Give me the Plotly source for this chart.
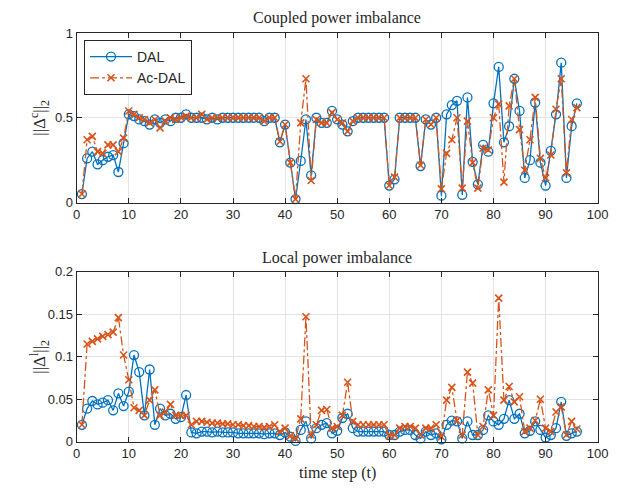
import plotly.graph_objects as go

t = list(range(1, 97))

dal_coupled = [0.05, 0.26, 0.30, 0.225, 0.25, 0.27, 0.28, 0.18, 0.35, 0.52,
               0.51, 0.49, 0.48, 0.46, 0.49, 0.47, 0.49, 0.48, 0.50, 0.50,
               0.52, 0.50, 0.50, 0.50, 0.49, 0.50, 0.49, 0.50, 0.50, 0.50,
               0.50, 0.50, 0.50, 0.50, 0.50, 0.48, 0.50, 0.50, 0.355, 0.46,
               0.235, 0.02, 0.245, 0.49, 0.16, 0.50, 0.47, 0.47, 0.54, 0.49,
               0.46, 0.42, 0.48, 0.50, 0.50, 0.50, 0.50, 0.50, 0.50, 0.10,
               0.137, 0.50, 0.50, 0.50, 0.50, 0.215, 0.49, 0.46, 0.50, 0.04,
               0.52, 0.575, 0.60, 0.045, 0.62, 0.24, 0.107, 0.34, 0.30, 0.585,
               0.80, 0.355, 0.45, 0.73, 0.54, 0.145, 0.25, 0.59, 0.235, 0.10,
               0.305, 0.52, 0.825, 0.145, 0.45, 0.585]

acdal_coupled = [0.05, 0.37, 0.39, 0.30, 0.29, 0.34, 0.34, 0.30, 0.38, 0.54,
                 0.52, 0.50, 0.49, 0.47, 0.49, 0.44, 0.48, 0.50, 0.49, 0.50,
                 0.51, 0.50, 0.50, 0.52, 0.49, 0.50, 0.50, 0.50, 0.50, 0.50,
                 0.50, 0.50, 0.50, 0.50, 0.50, 0.48, 0.50, 0.50, 0.36, 0.46,
                 0.235, 0.02, 0.47, 0.73, 0.13, 0.49, 0.47, 0.47, 0.53, 0.49,
                 0.47, 0.42, 0.48, 0.50, 0.50, 0.50, 0.50, 0.50, 0.50, 0.10,
                 0.15, 0.50, 0.50, 0.50, 0.50, 0.22, 0.49, 0.46, 0.50, 0.08,
                 0.29, 0.37, 0.50, 0.085, 0.48, 0.235, 0.085, 0.32, 0.31, 0.50,
                 0.58, 0.12, 0.57, 0.73, 0.43, 0.19, 0.37, 0.62, 0.26, 0.145,
                 0.28, 0.55, 0.73, 0.175, 0.49, 0.56]

dal_local = [0.020, 0.039, 0.048, 0.044, 0.046, 0.049, 0.037, 0.057, 0.042, 0.059,
             0.102, 0.082, 0.031, 0.085, 0.020, 0.039, 0.031, 0.033, 0.027, 0.029,
             0.055, 0.011, 0.010, 0.012, 0.012, 0.011, 0.012, 0.011, 0.011, 0.011,
             0.010, 0.010, 0.010, 0.010, 0.010, 0.009, 0.010, 0.010, 0.008, 0.011,
             0.006, 0.001, 0.014, 0.024, 0.004, 0.016, 0.020, 0.022, 0.010, 0.013,
             0.028, 0.033, 0.016, 0.012, 0.012, 0.012, 0.012, 0.012, 0.012, 0.008,
             0.008, 0.012, 0.014, 0.014, 0.008, 0.004, 0.012, 0.008, 0.010, 0.003,
             0.020, 0.025, 0.024, 0.004, 0.024, 0.008, 0.008, 0.014, 0.031, 0.024,
             0.020, 0.027, 0.049, 0.027, 0.033, 0.010, 0.013, 0.024, 0.014, 0.005,
             0.008, 0.016, 0.047, 0.007, 0.010, 0.012]

acdal_local = [0.020, 0.115, 0.118, 0.121, 0.124, 0.126, 0.129, 0.146, 0.102, 0.073,
               0.040, 0.037, 0.031, 0.049, 0.061, 0.031, 0.035, 0.044, 0.031, 0.031,
               0.031, 0.020, 0.024, 0.024, 0.023, 0.022, 0.022, 0.021, 0.021, 0.020,
               0.020, 0.019, 0.019, 0.018, 0.018, 0.017, 0.018, 0.020, 0.012, 0.016,
               0.007, 0.004, 0.027, 0.147, 0.008, 0.020, 0.037, 0.038, 0.016, 0.018,
               0.031, 0.070, 0.024, 0.020, 0.020, 0.020, 0.020, 0.020, 0.020, 0.007,
               0.008, 0.016, 0.018, 0.018, 0.016, 0.008, 0.016, 0.016, 0.020, 0.006,
               0.049, 0.064, 0.025, 0.008, 0.082, 0.069, 0.008, 0.018, 0.061, 0.031,
               0.169, 0.049, 0.065, 0.047, 0.053, 0.012, 0.016, 0.025, 0.050, 0.016,
               0.012, 0.035, 0.041, 0.008, 0.024, 0.015]

x_ticks = [0, 10, 20, 30, 40, 50, 60, 70, 80, 90, 100]
y_ticks_top = [0, 0.5, 1]
y_ticks_bottom = [0, 0.05, 0.1, 0.15, 0.2]

BLUE = "#0072BD"
ORANGE = "#D95319"
W, H = 617, 491
OFF = 8  # page body margin

def px(xp):
    return (xp - OFF) / W

def py(yp):
    return 1 - (yp - OFF) / H

fig = go.Figure()

def add_pair(ya, xa, dal, ac, show):
    fig.add_trace(go.Scatter(
        x=t, y=dal, name="DAL", mode="lines+markers", xaxis=xa, yaxis=ya,
        line=dict(color=BLUE, width=1.3),
        marker=dict(symbol="circle-open", size=9, color=BLUE, line=dict(width=1.3, color=BLUE)),
        showlegend=show, cliponaxis=False))
    fig.add_trace(go.Scatter(
        x=t, y=ac, name="Ac-DAL", mode="lines+markers", xaxis=xa, yaxis=ya,
        line=dict(color=ORANGE, width=1.3, dash="dashdot"),
        marker=dict(symbol="x-thin-open", size=7, color=ORANGE, line=dict(width=1.6, color=ORANGE)),
        showlegend=show, cliponaxis=False))

add_pair("y", "x", dal_coupled, acdal_coupled, True)
add_pair("y2", "x2", dal_local, acdal_local, False)

x_dom = [px(76.7), px(597.7)]
top_dom = [py(202.5), py(33)]
bot_dom = [py(441.8), py(271.7)]

axis_common = dict(
    showline=True, linecolor="#262626", linewidth=1, mirror="ticks",
    ticks="inside", ticklen=5, tickcolor="#262626", tickwidth=1,
    showgrid=True, gridcolor="#e3e3e3", gridwidth=1, zeroline=False,
    automargin=False,
    tickfont=dict(family="Liberation Sans, Arial, sans-serif", size=13, color="#262626"),
)

fig.update_layout(
    width=W, height=H, margin=dict(l=0, r=0, t=0, b=0, autoexpand=False),
    paper_bgcolor="white", plot_bgcolor="white",
    xaxis=dict(domain=x_dom, range=[0, 100], tickvals=x_ticks, anchor="y", **axis_common),
    yaxis=dict(domain=top_dom, range=[0, 1], tickvals=y_ticks_top, ticktext=["0", "0.5", "1"], anchor="x", **axis_common),
    xaxis2=dict(domain=x_dom, range=[0, 100], tickvals=x_ticks, anchor="y2", **axis_common),
    yaxis2=dict(domain=bot_dom, range=[0, 0.2], tickvals=y_ticks_bottom, ticktext=["0", "0.05", "0.1", "0.15", "0.2"], anchor="x2", **axis_common),
    legend=dict(x=px(84), y=py(40), xanchor="left", yanchor="top",
                bgcolor="white", bordercolor="#262626", borderwidth=1,
                font=dict(family="Liberation Sans, Arial, sans-serif", size=14, color="#262626"),
                tracegroupgap=0, itemwidth=42),
    showlegend=True,
)

serif = dict(family="Liberation Serif, DejaVu Serif, serif", size=16, color="#262626")
serif_lab = dict(family="Liberation Serif, DejaVu Serif, serif", size=17, color="#262626")
cx = (x_dom[0] + x_dom[1]) / 2
fig.add_annotation(text="Coupled power imbalance", x=cx, y=py(18), xref="paper", yref="paper",
                   showarrow=False, font=serif, xanchor="center", yanchor="middle")
fig.add_annotation(text="Local power imbalance", x=cx, y=py(258), xref="paper", yref="paper",
                   showarrow=False, font=serif, xanchor="center", yanchor="middle")
fig.add_annotation(text="time step (t)", x=cx, y=py(473), xref="paper", yref="paper",
                   showarrow=False, font=serif, xanchor="center", yanchor="middle")
fig.add_annotation(text="||Δ<sup>c</sup>||<sub>2</sub>", x=px(40), y=(top_dom[0] + top_dom[1]) / 2,
                   xref="paper", yref="paper", showarrow=False, font=serif_lab, textangle=-90,
                   xanchor="center", yanchor="middle")
fig.add_annotation(text="||Δ<sup>l</sup>||<sub>2</sub>", x=px(40), y=(bot_dom[0] + bot_dom[1]) / 2,
                   xref="paper", yref="paper", showarrow=False, font=serif_lab, textangle=-90,
                   xanchor="center", yanchor="middle")

fig.write_html("out.html")
